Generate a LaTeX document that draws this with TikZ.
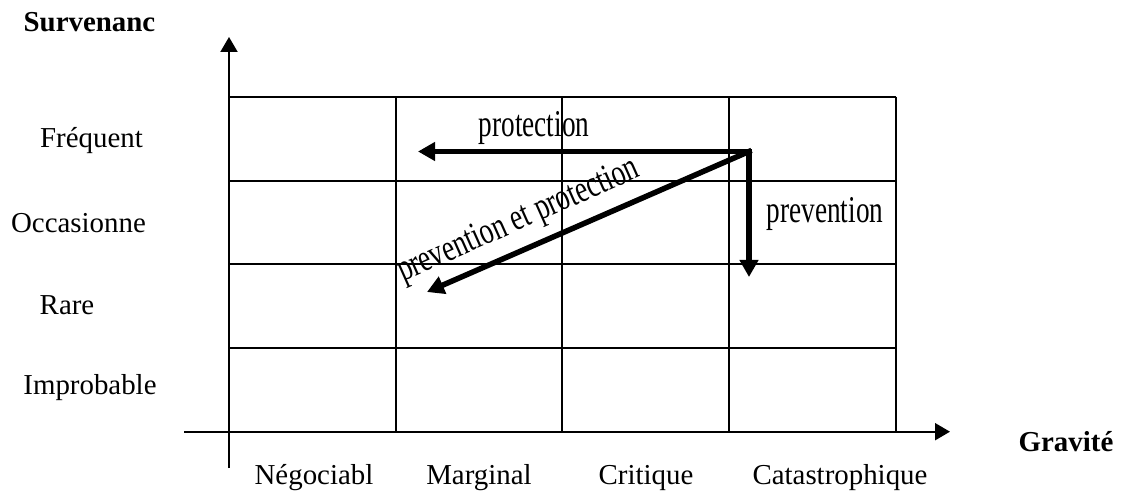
\documentclass[tikz,border=0pt]{standalone}
\usepackage{fontspec}
\setmainfont{Liberation Serif}
\usetikzlibrary{arrows.meta}
\tikzset{
    grille/.style={
        line width=2bp % 网格线
    },
    axe/.style={
        line width=2bp,
        -{Triangle[length=15bp,width=17bp]}
    },
    fleche/.style={
        line width=5.5bp, % 粗箭头
        line cap=rect,
        -{Triangle[length=17bp,width=18bp]}
    },
    etiquette/.style={
        anchor=base,
        inner sep=0,
        font=\fontsize{29}{34}\selectfont
    },
    titre/.style={
        anchor=base,
        inner sep=0,
        font=\bfseries\fontsize{29}{34}\selectfont
    },
    flechelabel/.style={
        anchor=base,
        inner sep=0,
        xscale=0.72, % 压缩字体
        font=\fontsize{38}{44}\selectfont
    }
}
\begin{document}
\begin{tikzpicture}[x=1bp,y=-1bp]
    \useasboundingbox (0,0) rectangle (1121,493);
    % 网格
    \foreach \x in {396,562,729,896}
        \draw[grille] (\x,96.7) -- (\x,431.7);
    \foreach \y in {96.7,180.7,264.3,347.7}
        \draw[grille] (229,\y) -- (896,\y);
    % 坐标轴
    \coordinate (xdebut) at (184,431.7);
    \coordinate (xfin) at (950,431.7);
    \coordinate (ydebut) at (229,468);
    \coordinate (yfin) at (229,37);
    \draw[axe] (xdebut) -- (xfin);
    \draw[axe] (ydebut) -- (yfin);
    % 轴标题
    \node[titre] (survenance) at (89.5,32) {Survenanc};
    \node[titre] (gravite) at (1066,451) {Gravité};
    % 纵向标签
    \node[etiquette] (frequent) at (91.5,148) {Fréquent};
    \node[etiquette] (occasionnel) at (78.5,233) {Occasionne};
    \node[etiquette] (rare) at (67,315) {Rare};
    \node[etiquette] (improbable) at (90,394) {Improbable};
    % 横向标签
    \node[etiquette] (negociable) at (314,484) {Négociabl};
    \node[etiquette] (marginal) at (479,484) {Marginal};
    \node[etiquette] (critique) at (646,484) {Critique};
    \node[etiquette] (catastrophique) at (840,484) {Catastrophique};
    % 粗箭头
    \coordinate (coin) at (749,151.5);
    \coordinate (protfin) at (418,151.5);
    \coordinate (prevfin) at (749,277);
    \coordinate (deuxfin) at (427,292);
    \draw[fleche] (coin) -- (protfin);
    \draw[fleche] (coin) -- (prevfin);
    \draw[fleche] (coin) -- (deuxfin);
    \node[flechelabel] (protection) at (534,136.7) {protection};
    \node[flechelabel] (prevention) at (825,222.3) {prevention};
    \node[rotate=24, flechelabel] (prevprot) at (522,229) {prevention et protection};
\end{tikzpicture}
\end{document}
